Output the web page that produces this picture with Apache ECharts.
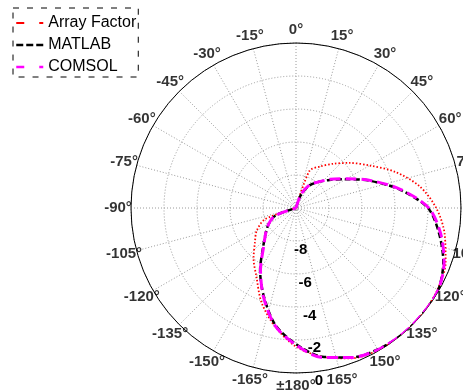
<!DOCTYPE html>
<html>
<head>
<meta charset="utf-8">
<script src="https://cdn.jsdelivr.net/npm/echarts@6/dist/echarts.min.js"></script>
<style>
html,body{margin:0;padding:0;background:#fff;}
#chart{width:463px;height:391px;}
</style>
</head>
<body>
<div id="chart"></div>
<script>
// Angles in degrees, measured clockwise from the top (0 deg)
const angles = [0,10,20,30,40,50,60,70,80,90,100,110,120,130,140,150,160,170,180,
  190,200,210,220,230,240,250,260,270,280,290,300,310,320,330,340,350,360];
// Normalized pattern values in dB
const arrayFactor = [-10,-10,-7.6,-7.1,-6.5,-5.75,-4.85,-3.6,-2.4,-1.5,-0.85,-0.35,-0.1,0,0,-0.05,-0.3,-0.85,-1.6,
  -2.7,-3.9,-5.2,-6.0,-6.75,-7.25,-8.0,-10,-10,-10,-10,-10,-10,-10,-10,-10,-10,-10];
const matlab = [-10,-10,-9.2,-8.45,-7.95,-7.35,-6.5,-5.2,-3.6,-2.0,-1.2,-0.5,-0.05,0,0,-0.1,-0.35,-0.85,-1.75,
  -2.8,-4.3,-5.65,-6.9,-7.6,-8.1,-8.7,-10,-10,-10,-10,-10,-10,-10,-10,-10,-10,-10];
const comsol = [-10,-10,-9.15,-8.4,-7.95,-7.3,-6.45,-5.15,-3.55,-1.95,-1.1,-0.45,-0.05,0,0,-0.08,-0.35,-0.8,-1.7,
  -2.75,-4.25,-5.7,-6.95,-7.6,-8.1,-8.65,-10,-10,-10,-10,-10,-10,-10,-10,-10,-10,-10];
const seriesNames = ['Array Factor','MATLAB','COMSOL'];
// Angular tick positions and their labels
const angleTicks = [0,15,30,45,60,75,90,105,120,135,150,165,180,195,210,225,240,255,270,285,300,315,330,345];
const angleTickLabels = ['0\u00b0','15\u00b0','30\u00b0','45\u00b0','60\u00b0','75\u00b0','90\u00b0','105\u00b0',
  '120\u00b0','135\u00b0','150\u00b0','165\u00b0','\u00b1180\u00b0','-165\u00b0','-150\u00b0','-135\u00b0','-120\u00b0',
  '-105\u00b0','-90\u00b0','-75\u00b0','-60\u00b0','-45\u00b0','-30\u00b0','-15\u00b0'];
const radialMin = -10, radialMax = 0, radialStep = 2;
const angleStep = 15;

const chart = echarts.init(document.getElementById('chart'), null, {renderer:'canvas'});
const font = 'Liberation Sans, Arial, sans-serif';
const gridStyle = {color:'#9a9a9a', width:1, type:[1,2]};

function pairs(vals){ return angles.map((a,i)=>[vals[i], a]); }

chart.setOption({
  animation:false,
  backgroundColor:'#fff',
  polar:[
    {center:[296,208], radius:165},
    {center:[296,208], radius:165},
    {center:[296,208], radius:178}
  ],
  angleAxis:[
    {polarIndex:0, type:'value', min:0, max:360, interval:angleStep, startAngle:90, clockwise:true,
     axisLine:{show:true, lineStyle:{color:'#000', width:1}},
     axisTick:{show:false},
     splitLine:{show:true, lineStyle:gridStyle},
     axisLabel:{show:false}},
    {polarIndex:1, type:'value', min:0, max:360, startAngle:-82, show:false},
    {polarIndex:2, type:'value', min:0, max:360, startAngle:90, clockwise:true, show:false}
  ],
  radiusAxis:[
    {polarIndex:0, type:'value', min:radialMin, max:radialMax, interval:radialStep,
     axisLine:{show:false}, axisTick:{show:false}, axisLabel:{show:false},
     splitLine:{show:true, lineStyle:gridStyle}},
    {polarIndex:1, type:'value', min:radialMin, max:radialMax, interval:radialStep,
     axisLine:{show:false}, axisTick:{show:false}, splitLine:{show:false},
     axisLabel:{show:true, margin:0, align:'center', verticalAlign:'top', padding:[2,0,0,0],
       formatter:(v)=> v === radialMin ? '' : String(v),
       fontFamily:font, fontWeight:'bold', fontSize:15, color:'#000'}},
    {polarIndex:2, type:'value', min:0, max:1, show:false}
  ],
  legend:{
    orient:'vertical', left:13, top:8, itemWidth:27, itemHeight:14, itemGap:6,
    padding:[7,2,2,2],
    borderColor:'#000', borderWidth:1, borderType:[6,8],
    itemStyle:{opacity:0},
    textStyle:{fontFamily:font, fontSize:16, color:'#000'},
    data:[
      {name:seriesNames[0], lineStyle:{type:[8,15], width:2}},
      {name:seriesNames[1], lineStyle:{type:[7,3], width:2.5}},
      {name:seriesNames[2], lineStyle:{type:[8,15], width:2.5}}
    ]
  },
  series:[
    {name:seriesNames[0], type:'line', coordinateSystem:'polar', polarIndex:0, data:pairs(arrayFactor),
     symbol:'none', smooth:0.3, color:'#ff0000', lineStyle:{color:'#ff0000', width:1.8, type:[1.5,2]}},
    {name:seriesNames[1], type:'line', coordinateSystem:'polar', polarIndex:0, data:pairs(matlab),
     symbol:'none', smooth:0.3, color:'#000000', lineStyle:{color:'#000000', width:2.5, type:[6,3]}},
    {name:seriesNames[2], type:'line', coordinateSystem:'polar', polarIndex:0, data:pairs(comsol),
     symbol:'none', smooth:0.3, color:'#ff00ff', lineStyle:{color:'#ff00ff', width:3, type:[11,5]}},
    {name:'angleLabels', type:'scatter', coordinateSystem:'polar', polarIndex:2, silent:true,
     symbol:'circle', symbolSize:1, itemStyle:{color:'rgba(0,0,0,0)'},
     data:angleTicks.map(a=>[1, a]),
     label:{show:true, position:'inside', align:'center', verticalAlign:'middle',
       formatter:(p)=> angleTickLabels[p.dataIndex],
       fontFamily:font, fontWeight:'bold', fontSize:15, color:'#000'}}
  ]
});
</script>
</body>
</html>
